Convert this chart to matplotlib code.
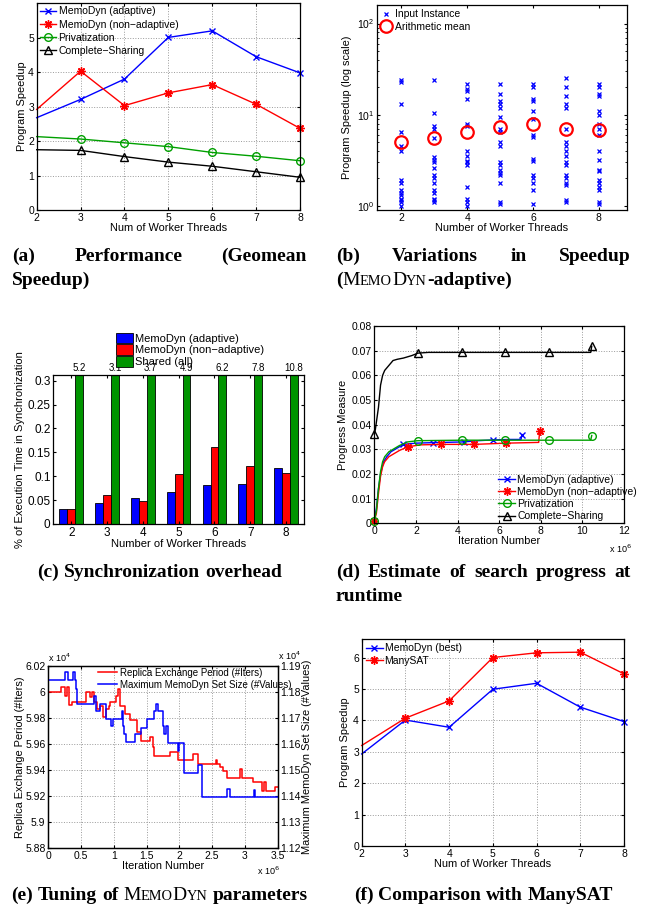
import numpy as np
import matplotlib
matplotlib.use('Agg')
import matplotlib.pyplot as plt
from matplotlib.ticker import FuncFormatter
from matplotlib.font_manager import FontProperties

plt.rcParams['font.family'] = ['Liberation Sans', 'DejaVu Sans']
plt.rcParams['font.size'] = 7.5
plt.rcParams['xtick.direction'] = 'in'
plt.rcParams['ytick.direction'] = 'in'
plt.rcParams['xtick.top'] = True
plt.rcParams['ytick.right'] = True
plt.rcParams['xtick.major.size'] = 2.5
plt.rcParams['ytick.major.size'] = 2.5
plt.rcParams['xtick.major.pad'] = 2
plt.rcParams['ytick.major.pad'] = 2
plt.rcParams['axes.linewidth'] = 0.9
plt.rcParams['grid.linestyle'] = ':'
plt.rcParams['grid.color'] = '#9a9a9a'
plt.rcParams['grid.linewidth'] = 0.7
plt.rcParams['axes.labelsize'] = 7.9
plt.rcParams['legend.fontsize'] = 7.5

# (a) geomean speedup
threads = [2, 3, 4, 5, 6, 7, 8]
speedup_adaptive = [2.68, 3.21, 3.80, 5.01, 5.20, 4.45, 3.98]
speedup_nonadaptive = [2.92, 4.03, 3.03, 3.40, 3.64, 3.07, 2.37]
speedup_private = [2.13, 2.06, 1.95, 1.84, 1.67, 1.56, 1.43]
speedup_sharing = [1.75, 1.73, 1.55, 1.39, 1.27, 1.11, 0.95]

# (b) per-instance speedups, MemoDyn adaptive
b_threads = [2, 3, 4, 5, 6, 7, 8]
b_instances = [
    [24, 23, 13, 6.5, 4.5, 4.0, 1.9, 1.8, 1.5, 1.4, 1.3, 1.2, 1.15, 1.1, 1.0],
    [24, 10.5, 7.5, 7.0, 5.5, 3.4, 3.2, 3.0, 2.6, 2.2, 2.0, 1.8, 1.5, 1.4, 1.2, 1.15, 1.1],
    [22, 19, 18, 15, 8.0, 7.5, 4.0, 3.5, 3.1, 3.0, 2.8, 1.6, 1.2, 1.1, 1.0],
    [22, 17, 14, 13, 12, 9.5, 7.0, 6.5, 5.0, 4.5, 3.0, 2.8, 2.5, 2.3, 2.2, 1.8, 1.1, 1.05],
    [22, 20, 15, 14, 11, 9.0, 6.0, 5.7, 3.3, 3.1, 2.2, 2.0, 1.8, 1.5, 1.05],
    [25, 20, 16, 13, 12, 7.0, 5.0, 4.5, 4.0, 3.5, 3.0, 2.8, 2.2, 2.0, 1.8, 1.7, 1.15, 1.1],
    [22, 20, 17, 16, 11, 10, 8.0, 7.0, 6.0, 4.0, 3.2, 2.5, 2.4, 1.9, 1.8, 1.6, 1.5, 1.1, 1.05],
]
b_means = [5.0, 5.5, 6.5, 7.4, 7.9, 7.0, 6.8]

# (c) synchronization overhead
sync_adaptive = [0.032, 0.044, 0.055, 0.068, 0.082, 0.083, 0.118]
sync_nonadaptive = [0.032, 0.061, 0.049, 0.105, 0.162, 0.122, 0.107]
sync_shared = [5.2, 3.1, 3.7, 4.9, 6.2, 7.8, 10.8]
sync_shared_labels = ['5.2', '3.1', '3.7', '4.9', '6.2', '7.8', '10.8']

# (d) progress measure vs iteration (x 10^6)
d_iter_adaptive = [0, 0.1, 0.2, 0.3, 0.45, 0.6, 0.8, 1.0, 1.4, 2.0, 2.8, 4.3, 5.0, 5.7, 6.5, 7.05, 7.1]
d_prog_adaptive = [0.001, 0.006, 0.014, 0.020, 0.025, 0.027, 0.029, 0.030, 0.032, 0.0325,
                   0.0327, 0.033, 0.0335, 0.0338, 0.034, 0.034, 0.036]
d_mark_adaptive = [0, 8, 10, 11, 13, 16]
d_iter_nonadapt = [0, 0.1, 0.2, 0.3, 0.4, 0.5, 0.7, 0.9, 1.2, 1.6, 2.2, 3.2, 4.8, 6.35, 7.9, 7.95]
d_prog_nonadapt = [0.001, 0.004, 0.012, 0.019, 0.023, 0.025, 0.027, 0.028, 0.0295, 0.031,
                   0.0318, 0.032, 0.032, 0.0325, 0.0328, 0.0376]
d_mark_nonadapt = [0, 9, 11, 12, 13, 15]
d_iter_private = [0, 0.1, 0.2, 0.3, 0.4, 0.5, 0.7, 0.9, 1.2, 1.6, 2.1, 4.2, 6.3, 8.4, 10.4, 10.45]
d_prog_private = [0.001, 0.005, 0.014, 0.021, 0.025, 0.027, 0.029, 0.030, 0.0315, 0.033,
                  0.0335, 0.0337, 0.0337, 0.0337, 0.0337, 0.0356]
d_mark_private = [0, 10, 11, 12, 13, 15]
d_iter_sharing = [0, 0.05, 0.1, 0.2, 0.3, 0.4, 0.5, 0.7, 0.9, 1.1, 1.4, 1.6, 1.8, 2.1, 2.6,
                  4.2, 6.3, 8.4, 10.4, 10.45]
d_prog_sharing = [0.0362, 0.038, 0.041, 0.047, 0.056, 0.060, 0.062, 0.064, 0.066, 0.0665,
                  0.067, 0.0675, 0.068, 0.069, 0.0693, 0.0693, 0.0693, 0.0693, 0.0693, 0.0718]
d_mark_sharing = [0, 13, 15, 16, 17, 19]

# (e) parameter tuning (x in 10^6 iterations, y in 10^4)
e_iter_period = [0, 0.2, 0.25, 0.28, 0.32, 0.36, 0.58, 0.64, 0.66, 0.7, 0.74, 0.79, 0.84, 0.88,
                 0.92, 0.94, 1.04, 1.07, 1.09, 1.17, 1.25, 1.35, 1.42, 1.55, 1.59, 1.61, 1.86,
                 1.98, 2.21, 2.29, 2.56, 2.58, 2.62, 2.67, 2.72, 2.92, 2.95, 3.13, 3.26, 3.29,
                 3.32, 3.46, 3.5]
e_period = [6.000, 6.004, 5.997, 6.004, 5.990, 5.9925, 6.000, 5.996, 6.000, 5.9925, 5.987,
            5.989, 5.981, 5.987, 5.989, 5.992, 5.997, 6.0025, 5.989, 5.983, 5.978, 5.969,
            5.962, 5.965, 5.958, 5.951, 5.954, 5.948, 5.952, 5.945, 5.948, 5.945, 5.942,
            5.939, 5.934, 5.941, 5.934, 5.931, 5.924, 5.931, 5.924, 5.927, 5.927]
e_iter_setsize = [0, 0.25, 0.3, 0.36, 0.38, 0.4, 0.42, 0.44, 0.69, 0.73, 0.79, 0.88, 0.95,
                  0.99, 1.12, 1.14, 1.16, 1.18, 1.32, 1.42, 1.5, 1.61, 1.65, 1.68, 1.75, 1.77,
                  1.79, 1.83, 1.98, 2.0, 2.05, 2.07, 2.29, 2.34, 2.72, 2.73, 2.77, 3.14, 3.16, 3.5]
e_setsize = [1.1846, 1.1877, 1.1846, 1.1846, 1.1877, 1.1846, 1.181, 1.1755, 1.1784, 1.1727,
             1.1755, 1.1697, 1.1669, 1.1697, 1.1727, 1.1669, 1.1640, 1.1609, 1.1637, 1.1662,
             1.1697, 1.1727, 1.1755, 1.1727, 1.167, 1.1637, 1.167, 1.1605, 1.1573, 1.1605,
             1.1605, 1.1487, 1.1519, 1.1397, 1.1428, 1.1428, 1.1397, 1.1425, 1.1397, 1.1397]

# (f) comparison with ManySAT
f_memodyn = [2.93, 4.01, 3.78, 4.99, 5.18, 4.42, 3.96]
f_manysat = [3.20, 4.07, 4.62, 6.00, 6.15, 6.17, 5.48]

W, H = 654, 909
fig = plt.figure(figsize=(W / 100, H / 100), dpi=100)


def place(l, t, r, b):
    return fig.add_axes([l / W, 1 - b / H, (r - l) / W, (b - t) / H])


ASTER = (8, 2, 0)
GREEN = '#00a000'
inner = list(range(1, 7))

# ---------------- (a)
ax = place(36.7, 3.3, 300, 210)
ax.plot(threads, speedup_adaptive, color='blue', lw=1, marker='x', ms=5, mew=1, markevery=inner,
        clip_on=False, label='MemoDyn (adaptive)')
ax.plot(threads, speedup_nonadaptive, color='red', lw=1, marker=ASTER, ms=6, mew=1, markevery=inner,
        clip_on=False, label='MemoDyn (non\u2212adaptive)')
ax.plot(threads, speedup_private, color=GREEN, lw=1, marker='o', ms=5.5, mfc='none', mew=1,
        markevery=inner, clip_on=False, label='Privatization')
ax.plot(threads, speedup_sharing, color='black', lw=1, marker='^', ms=5.5, mfc='none', mew=1,
        markevery=inner, clip_on=False, label='Complete\u2212Sharing')
ax.set_xlim(2, 8)
ax.set_ylim(0, 6)
ax.set_yticks([0, 1, 2, 3, 4, 5])
ax.grid(True)
ax.set_xlabel('Num of Worker Threads', labelpad=0)
ax.set_ylabel('Program Speedup', labelpad=1)
ax.legend(loc='upper left', frameon=False, handlelength=1.6, handletextpad=0.2,
          labelspacing=0.3, borderaxespad=0.2, borderpad=0.1)

# ---------------- (b)
ax = place(376.7, 5, 626.7, 210)
for i, (t, vals) in enumerate(zip(b_threads, b_instances)):
    ax.plot([t] * len(vals), vals, ls='none', marker='x', color='blue', ms=3.5, mew=0.9,
            label='Input Instance' if i == 0 else None)
ax.plot(b_threads, b_means, ls='none', marker='o', mfc='none', mec='red', ms=9, mew=1.6,
        label='Arithmetic mean')
ax.set_yscale('log')
ax.set_xlim(1.25, 8.85)
ax.set_ylim(0.9, 160)
ax.set_xticks([2, 4, 6, 8])
ax.set_xlabel('Number of Worker Threads', labelpad=0)
ax.set_ylabel('Program Speedup (log scale)', labelpad=3)
ax.tick_params(which='minor', length=1.5, direction='in')
ax.legend(loc='upper left', frameon=False, handlelength=1.0, handletextpad=0.4,
          labelspacing=0.25, borderaxespad=0.3, borderpad=0.1)

# ---------------- (c)
ax = place(53.3, 375, 304, 524)
x = np.array(threads, dtype=float)
bw = 0.22
ax.bar(x - bw, sync_adaptive, bw, color='blue', edgecolor='black', lw=0.6,
       label='MemoDyn (adaptive)')
ax.bar(x, sync_nonadaptive, bw, color='red', edgecolor='black', lw=0.6,
       label='MemoDyn (non\u2212adaptive)')
ax.bar(x + bw, sync_shared, bw, color='#009400', edgecolor='black', lw=0.6,
       label='Shared (all)')
ax.set_xlim(1.5, 8.5)
ax.set_ylim(0, 0.312)
ax.set_xticks(threads)
ax.set_yticks([0, 0.05, 0.1, 0.15, 0.2, 0.25, 0.3])
ax.yaxis.set_major_formatter(FuncFormatter(lambda v, p: '%g' % round(v, 2)))
ax.tick_params(labelsize=8.5)
for xi, lab in zip(x + bw, sync_shared_labels):
    ax.text(xi, 1.012, lab, transform=ax.get_xaxis_transform(), ha='center', va='bottom',
            fontsize=7)
ax.set_xlabel('Number of Worker Threads', labelpad=0, fontsize=8)
ax.set_ylabel('% of Execution Time in Synchronization', labelpad=2, fontsize=8)
ax.legend(loc='upper left', bbox_to_anchor=(110 / W, 1 - 327 / H), bbox_transform=fig.transFigure,
          frameon=False, handlelength=1.6, handleheight=1.1, handletextpad=0.15,
          labelspacing=0.05, borderpad=0, fontsize=8)

# ---------------- (d)
ax = place(374.3, 326, 624, 523.3)
ax.plot(d_iter_adaptive, d_prog_adaptive, color='blue', lw=1, marker='x', ms=5, mew=1,
        markevery=d_mark_adaptive, clip_on=False, label='MemoDyn (adaptive)')
ax.plot(d_iter_nonadapt, d_prog_nonadapt, color='red', lw=1, marker=ASTER, ms=6, mew=1,
        markevery=d_mark_nonadapt, clip_on=False, label='MemoDyn (non\u2212adaptive)')
ax.plot(d_iter_private, d_prog_private, color=GREEN, lw=1, marker='o', ms=5.5, mfc='none',
        mew=1, markevery=d_mark_private, clip_on=False, label='Privatization')
ax.plot(d_iter_sharing, d_prog_sharing, color='black', lw=1, marker='^', ms=5.5, mfc='none',
        mew=1, markevery=d_mark_sharing, clip_on=False, label='Complete\u2212Sharing')
ax.set_xlim(0, 12)
ax.set_ylim(0, 0.08)
ax.set_xticks(range(0, 13, 2))
ax.set_yticks(np.arange(0, 0.081, 0.01))
ax.yaxis.set_major_formatter(FuncFormatter(lambda v, p: '0' if v == 0 else '%.2f' % v))
ax.grid(True)
ax.set_xlabel('Iteration Number', labelpad=0)
ax.set_ylabel('Progress Measure', labelpad=2)
ax.text(0.985, -0.1, 'x 10$^6$', transform=ax.transAxes, ha='center', va='top', fontsize=6.5)
ax.legend(loc='lower right', frameon=False, handlelength=1.6, handletextpad=0.2,
          labelspacing=0.2, borderaxespad=0.1, borderpad=0.1, bbox_to_anchor=(1.06, 0.0))

# ---------------- (e)
ax = place(48.3, 665.7, 277.7, 848.3)
ax2 = ax.twinx()
l1, = ax.step(e_iter_period, e_period, where='post', color='red', lw=1.1,
              label='Replica Exchange Period (#Iters)')
l2, = ax2.step(e_iter_setsize, e_setsize, where='post', color='blue', lw=1.1,
               label='Maximum MemoDyn Set Size (#Values)')
ax.set_xlim(0, 3.5)
ax.set_ylim(5.88, 6.02)
ax2.set_ylim(1.12, 1.19)
ax.set_xticks(np.arange(0, 3.51, 0.5))
ax.set_yticks(np.arange(5.88, 6.021, 0.02))
ax2.set_yticks(np.arange(1.12, 1.191, 0.01))
fmt = FuncFormatter(lambda v, p: '%g' % round(v, 3))
ax.yaxis.set_major_formatter(fmt)
ax2.yaxis.set_major_formatter(fmt)
ax.xaxis.set_major_formatter(fmt)
ax.tick_params(right=False)
ax2.tick_params(direction='in')
ax.grid(True)
ax.set_xlabel('Iteration Number', labelpad=0)
ax.set_ylabel('Replica Exchange Period (#Iters)', labelpad=0)
ax2.set_ylabel('Maximum MemoDyn Set Size (#Values)', labelpad=1)
ax.text(0.0, 1.01, 'x 10$^4$', transform=ax.transAxes, ha='left', va='bottom', fontsize=6.5)
ax.text(1.0, 1.02, 'x 10$^4$', transform=ax.transAxes, ha='left', va='bottom', fontsize=6.5)
ax.text(0.96, -0.09, 'x 10$^6$', transform=ax.transAxes, ha='center', va='top', fontsize=6.5)
ax2.legend([l1, l2], [l1.get_label(), l2.get_label()], loc='upper right', frameon=False,
           handlelength=2.0, handletextpad=0.3, labelspacing=0.2, borderaxespad=0.1,
           borderpad=0.1, fontsize=7, bbox_to_anchor=(1.07, 1.0))

# ---------------- (f)
ax = place(361.7, 639.3, 624, 846)
ax.plot(threads, f_memodyn, color='blue', lw=1, marker='x', ms=5, mew=1, markevery=inner,
        clip_on=False, label='MemoDyn (best)')
ax.plot(threads, f_manysat, color='red', lw=1, marker=ASTER, ms=6, mew=1, markevery=inner,
        clip_on=False, label='ManySAT')
ax.set_xlim(2, 8)
ax.set_ylim(0, 6.58)
ax.set_yticks(range(0, 7))
ax.grid(True)
ax.set_xlabel('Num of Worker Threads', labelpad=0)
ax.set_ylabel('Program Speedup', labelpad=2)
ax.legend(loc='upper left', frameon=False, handlelength=1.6, handletextpad=0.2,
          labelspacing=0.2, borderaxespad=0.3, borderpad=0.1)

# ---------------- captions
SERIF = ['Liberation Serif', 'DejaVu Serif']
CAP = 14
fig.canvas.draw()
REND = fig.canvas.get_renderer()


def advance(s, size, bold):
    # pen advance of s: the bars cancel out any side bearing or padding
    fp = FontProperties(family=SERIF, size=size, weight='bold' if bold else 'normal')
    w1 = REND.get_text_width_height_descent('|' + s + '|', fp, ismath=False)[0]
    w0 = REND.get_text_width_height_descent('||', fp, ismath=False)[0]
    return w1 - w0


def smallcaps_memodyn(bold=False):
    return [('M', bold, 1), ('EMO', bold, 0.74), ('D', bold, 1), ('YN', bold, 0.74)]


def caption(words, y, x0=None, x1=None, center=None):
    adv = [[advance(s, CAP * k, b) for s, b, k in w] for w in words]
    tot = [sum(a) for a in adv]
    gap = advance(' ', CAP, True)
    if x1 is not None and len(words) > 1:
        gap = (x1 - x0 - sum(tot)) / (len(words) - 1)
    if center is not None:
        x0 = center - (sum(tot) + gap * (len(words) - 1)) / 2
    xc = x0
    for w, a in zip(words, adv):
        for (s, b, k), wd in zip(w, a):
            fig.text(xc / W, 1 - y / H, s, fontsize=CAP * k, family=SERIF, va='baseline',
                     fontweight='bold' if b else 'normal')
            xc += wd
        xc += gap


def bw_(s):
    return [(s, True, 1)]


caption([bw_('(a)'), bw_('Performance'), bw_('(Geomean')], 261, 12, 307)
caption([bw_('Speedup)')], 285, 12)
caption([bw_('(b)'), bw_('Variations'), bw_('in'), bw_('Speedup')], 261, 336, 631)
caption([[('(', True, 1)] + smallcaps_memodyn() + [('-adaptive)', True, 1)]], 285, 336)
caption([bw_('(c)'), bw_('Synchronization'), bw_('overhead')], 577, center=159.5)
caption([bw_('(d)'), bw_('Estimate'), bw_('of'), bw_('search'), bw_('progress'), bw_('at')],
        577, 336, 631)
caption([bw_('runtime')], 601, 336)
caption([bw_('(e)'), bw_('Tuning'), bw_('of'), smallcaps_memodyn(), bw_('parameters')], 900,
        center=159.5)
caption([bw_('(f)'), bw_('Comparison'), bw_('with'), bw_('ManySAT')], 900, center=483.5)

fig.savefig('out.png', dpi=100)
